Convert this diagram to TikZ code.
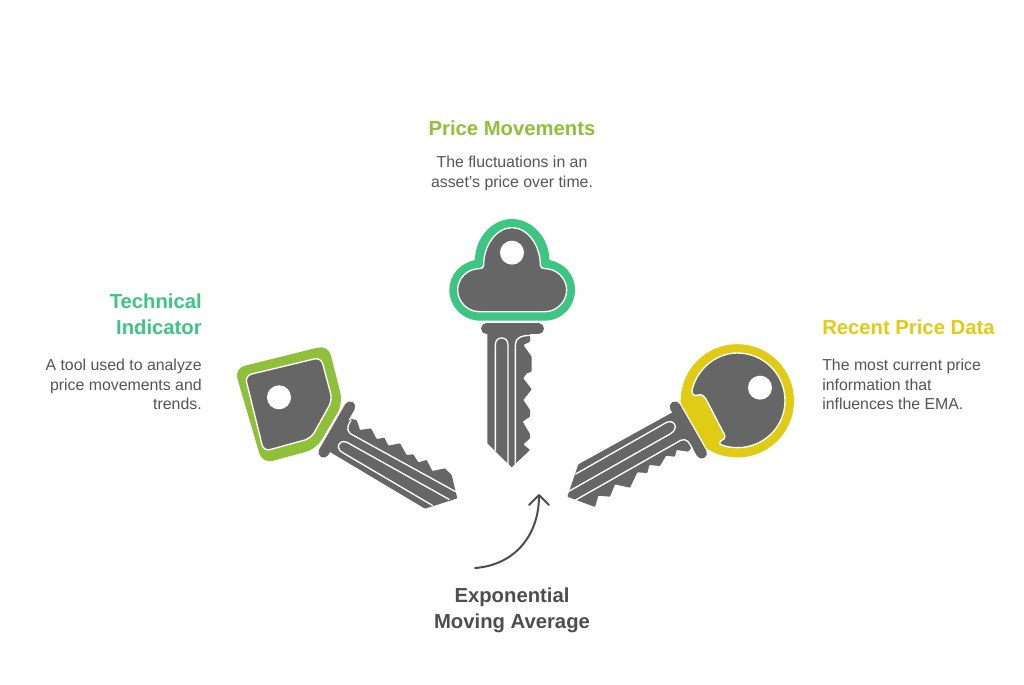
\documentclass[tikz,border=0pt]{standalone}
\usepackage{fontspec}
\usetikzlibrary{arrows.meta}
\setmainfont{Liberation Sans}
\definecolor{keygrey}{HTML}{666666}
\definecolor{mint}{HTML}{3CC583}
\definecolor{olive}{HTML}{90C03A}
\definecolor{gold}{HTML}{E0CB15}
\definecolor{bodytxt}{HTML}{555555}
\definecolor{titletxt}{HTML}{4D4D4D}
\tikzset{
  head/.style={font=\fontsize{15.2}{19.5}\selectfont\bfseries, inner sep=0pt},
  bodytext/.style={font=\fontsize{11.9}{14.6}\selectfont, text=bodytxt, inner sep=0pt},
  keyfill/.style={fill=keygrey, draw=none},
  keyface/.style={fill=keygrey, draw=white, line width=1pt},
  groove/.style={draw=white, line width=1pt, line cap=round},
  bowbar/.style={draw=keygrey, line width=8pt, line cap=round},
  bowgap/.style={draw=white, line width=10pt, line cap=round},
  hole/.style={fill=white, draw=none},
  zoomed/.style={x=0.25pt, y=-0.25pt}
}
\begin{document}
\begin{tikzpicture}[x=0.75pt,y=-0.75pt]
\useasboundingbox[fill=white] (0,0) rectangle (1024,685);

% centre key
\begin{scope}[shift={(430,210)},zoomed]
\fill[mint] (135,150) .. controls (135,85) and (185,27) .. (246,27)
  .. controls (307,27) and (358,85) .. (358,150)
  .. controls (405,160) and (435,195) .. (435,240)
  .. controls (435,290) and (395,332) .. (345,332) -- (150,332)
  .. controls (100,332) and (58,290) .. (58,240)
  .. controls (58,195) and (90,160) .. (135,150) -- cycle;
\path[keyface] (161,165) .. controls (161,105) and (200,53) .. (246,53)
  .. controls (292,53) and (331,105) .. (331,165)
  .. controls (331,172) and (336,176) .. (345,176)
  .. controls (380,176) and (410,205) .. (410,240)
  .. controls (410,275) and (380,305) .. (345,305) -- (148,305)
  .. controls (112,305) and (83,275) .. (83,240)
  .. controls (83,205) and (112,176) .. (148,176)
  .. controls (156,176) and (161,172) .. (161,165) -- cycle;
\fill[hole] (246,128) circle[radius=36];
\draw[bowbar] (169,356) -- (326,356);
\fill[keyfill,rounded corners=0.5pt] (172,368) -- (172,700) -- (245,772) -- (300,720)
  -- (280,703) -- (300,685) -- (300,672) -- (278,635) -- (300,620) -- (300,600)
  -- (280,570) -- (305,538) -- (280,505) -- (290,490) -- (305,485) -- (305,440)
  -- (280,405) -- (300,395) -- (300,368) -- cycle;
\draw[groove] (196,722) -- (196,405) .. controls (196,390) and (205,384) .. (215,384)
  .. controls (225,384) and (234,390) .. (234,405) -- (234,764);
\draw[groove] (256,764) -- (256,405) .. controls (256,385) and (270,376) .. (306,376);
\end{scope}

% left key
\begin{scope}[shift={(225,335)},zoomed]
\fill[olive,rounded corners=8pt] (28,100) -- (310,30) -- (354,205) -- (274,342) -- (112,386) -- cycle;
\path[keyface,rounded corners=5pt] (60,122) -- (288,67) -- (322,195) -- (258,310) -- (116,349) -- cycle;
\fill[hole] (162,187) circle[radius=36];
\fill[keyfill,rounded corners=0.5pt] (350,265) -- (380,252) -- (395,255) -- (405,285) -- (438,280) -- (455,312)
  -- (478,308) -- (490,332) -- (525,325) -- (545,360) -- (565,358) -- (580,382)
  -- (605,375) -- (622,408) -- (660,400) -- (680,420) -- (697,490) -- (600,521)
  -- (305,345) -- cycle;
\draw[bowbar] (375,215) -- (296,352);
\draw[groove] (378,256) .. controls (362,280) and (366,292) .. (385,301) -- (692,470);
\draw[groove] (672,493) -- (366,322) .. controls (350,315) and (340,325) .. (340,337)
  .. controls (340,345) and (348,350) .. (355,354) -- (622,511);
\end{scope}

% right key
\begin{scope}[shift={(560,335)},zoomed]
\fill[gold] (532,197.5) circle[radius=170];
\path[keyface] (396,165) .. controls (412,100) and (470,54) .. (532,54)
  .. controls (611,54) and (675,118) .. (675,197)
  .. controls (675,276) and (611,338) .. (532,338)
  .. controls (514,338) and (497,335) .. (480,328)
  .. controls (478,318) and (485,315) .. (492,312)
  .. controls (495,306) and (496,303) .. (493,298)
  -- (442,200) .. controls (436,185) and (425,176) .. (415,180)
  .. controls (405,184) and (394,180) .. (396,165) -- cycle;
\fill[hole] (600,158) circle[radius=36];
\draw[bowgap] (345,215) -- (425,355);
\draw[bowbar] (345,215) -- (425,355);
\fill[keyfill,rounded corners=0.5pt] (345,228) -- (55,388) -- (22,485) -- (105,516) -- (115,482) -- (150,485) -- (165,448)
  -- (210,458) -- (232,412) -- (262,414) -- (268,390) -- (300,393) -- (318,362)
  -- (345,365) -- (350,345) -- (385,350) -- (400,330) -- cycle;
\draw[groove] (47,417) -- (320,262) .. controls (335,255) and (346,265) .. (346,277)
  .. controls (346,287) and (338,292) .. (330,297) -- (28,468);
\draw[groove] (45,496) -- (362,316) .. controls (378,308) and (390,322) .. (398,345);
\end{scope}

% texts
\node[head,text=olive] (t1) at (512,128) {Price Movements};
\node[bodytext,align=center] (b1) at (512,173.5) {The fluctuations in an\\asset's price over time.};
\node[head,text=mint,align=right,anchor=east] (t2) at (202,314) {Technical\\Indicator};
\node[bodytext,align=right,anchor=east] (b2) at (202,384.5) {A tool used to analyze\\price movements and\\trends.};
\node[head,text=gold,anchor=west] (t3) at (822,327) {Recent Price Data};
\node[bodytext,align=left,anchor=west] (b3) at (822,384.5) {The most current price\\information that\\influences the EMA.};
\node[head,text=titletxt,align=center] (ema) at (512,610.5) {Exponential\\Moving Average};
\coordinate (arrstart) at (475,568);
\coordinate (arrend) at (539,494);
\draw[titletxt,line width=1.5pt,line cap=round,-{Straight Barb[length=7.5pt,width=15pt,round]}] (arrstart) .. controls (515,565) and (539,535) .. (arrend);
\end{tikzpicture}
\end{document}
